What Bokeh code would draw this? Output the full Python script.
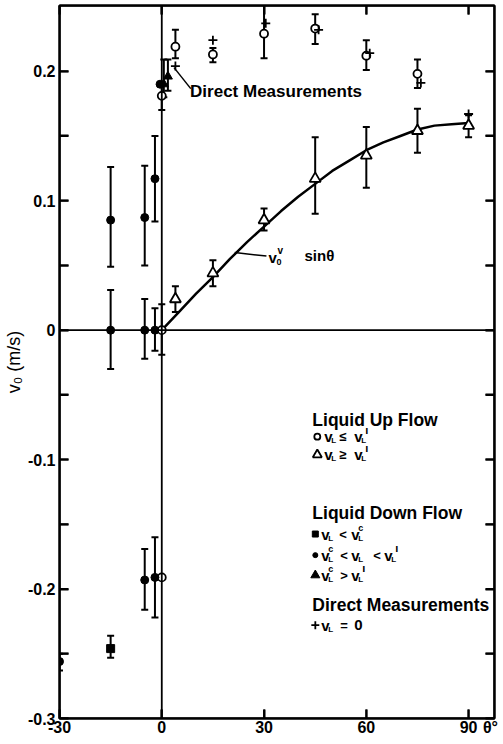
import math
from bokeh.plotting import figure
from bokeh.models import Range1d, LinearAxis, FixedTicker, CustomJSTickFormatter, Span
from bokeh.core.properties import value
from bokeh.embed import file_html
from bokeh.resources import INLINE

# ---------------- data ----------------
X_TICKS = [-30, 0, 30, 60, 90]
X_TICK_LABELS = ["-30", "0", "30", "60", "90"]
X_UNIT_POS = 96.4
X_UNIT_LABEL = "θ°"
Y_TICKS = [-0.3, -0.2, -0.1, 0.0, 0.1, 0.2]
Y_TICK_LABELS = ["-0.3", "-0.2", "-0.1", "0", "0.1", "0.2"]
Y_MINOR = [-0.25, -0.15, -0.05, 0.05, 0.15]

# v0^v sin(theta) curve
CURVE_THETA = [0, 5, 10, 15, 20, 25, 30, 35, 40, 45, 50, 55, 60, 65, 70, 75, 80, 85, 90]
CURVE_V = [0.0, 0.014, 0.028, 0.041, 0.055, 0.068, 0.080, 0.092, 0.103, 0.113,
           0.123, 0.131, 0.139, 0.145, 0.150, 0.155, 0.158, 0.159, 0.160]

# Liquid up flow, vL <= vL'  (open circles)
UP_LE_X = [0, 0, 4, 15, 30, 45, 60, 75, 0]
UP_LE_Y = [0.0, 0.181, 0.219, 0.213, 0.229, 0.233, 0.212, 0.198, -0.191]
# Liquid up flow, vL >= vL'  (open triangles)
UP_GE_X = [4, 15, 30, 45, 60, 75, 90]
UP_GE_Y = [0.024, 0.044, 0.085, 0.117, 0.135, 0.154, 0.158]
# Liquid down flow, vL < vLc (filled squares)
DN_SQ_X = [-15]
DN_SQ_Y = [-0.246]
# Liquid down flow, vLc < vL < vL' (filled dots)
DN_DOT_X = [-30, -15, -5, -2, -15, -5, -2, -5, -2, -0.5]
DN_DOT_Y = [-0.256, 0.085, 0.087, 0.117, 0.0, 0.0, 0.0, -0.193, -0.191, 0.190]
# Liquid down flow, vLc > vL' (filled triangles)
DN_TRI_X = [0.6, 1.8]
DN_TRI_Y = [0.190, 0.196]
# Direct measurements, vL = 0 (+)
DIRECT_X = [4, 15, 30.5, 46, 61, 76, 90]
DIRECT_Y = [0.204, 0.224, 0.237, 0.232, 0.214, 0.191, 0.167]

# error bars
ERR_X = [0, 0, 4, 15, 30, 45, 60, 75,
         4, 15, 30, 45, 60, 75, 90,
         -15, -30, -15, -5, -2, -15, -5, -2, -5, -2, 0.6, 1.8]
ERR_LO = [-0.019, 0.170, 0.210, 0.207, 0.210, 0.221, 0.201, 0.187,
          0.014, 0.034, 0.077, 0.090, 0.110, 0.137, 0.149,
          -0.253, -0.263, 0.049, 0.050, 0.084, -0.030, -0.022, -0.016, -0.216, -0.222, 0.180, 0.185]
ERR_HI = [0.020, 0.190, 0.232, 0.218, 0.260, 0.244, 0.224, 0.209,
          0.034, 0.054, 0.094, 0.149, 0.157, 0.171, 0.166,
          -0.236, -0.250, 0.126, 0.127, 0.150, 0.031, 0.024, 0.017, -0.169, -0.160, 0.209, 0.209]

# ---------------- figure ----------------
X0, X1 = -30, 97.6
Y0, Y1 = -0.3, 0.2508
W, H = 503, 744
BL, BR, BT, BB = 57, 9, 5, 26
FONT = "Liberation Sans"

p = figure(width=W, height=H, x_range=Range1d(X0, X1), y_range=Range1d(Y0, Y1),
           output_backend="svg", toolbar_location=None,
           min_border_left=BL, min_border_right=BR, min_border_top=BT, min_border_bottom=BB,
           x_axis_location=None, y_axis_location=None)
p.grid.visible = False
p.outline_line_color = "black"
p.outline_line_width = 2
p.background_fill_color = None
p.border_fill_color = "white"

PX_PER_DEG = (W - BL - BR) / (X1 - X0)
PX_PER_Y = (H - BT - BB) / (Y1 - Y0)
TICK_PX = 9

FMT_CODE = """
const i = tvals.findIndex(t => Math.abs(t - tick) < 1e-9);
return i >= 0 ? tlabels[i] : "";
"""
xfmt = CustomJSTickFormatter(args=dict(tvals=X_TICKS + [X_UNIT_POS], tlabels=X_TICK_LABELS + [X_UNIT_LABEL]),
                             code=FMT_CODE)
yfmt = CustomJSTickFormatter(args=dict(tvals=Y_TICKS, tlabels=Y_TICK_LABELS), code=FMT_CODE)
blank = CustomJSTickFormatter(code="return '';")


def style_axis(ax, show_labels, ticks=True):
    ax.axis_line_color = "black"
    ax.axis_line_width = 2
    ax.major_tick_line_color = "black" if ticks else None
    ax.major_tick_line_width = 2
    ax.minor_tick_line_color = "black" if ticks else None
    ax.minor_tick_line_width = 2
    ax.major_tick_in = TICK_PX if ticks else 0
    ax.major_tick_out = 0
    ax.minor_tick_in = TICK_PX if ticks else 0
    ax.minor_tick_out = 0
    if show_labels:
        ax.major_label_text_font = FONT
        ax.major_label_text_font_style = "bold"
        ax.major_label_text_font_size = "16px"
        ax.major_label_text_color = "black"
        ax.major_label_standoff = 2
    else:
        ax.major_label_text_font_size = "0px"
        ax.major_label_standoff = 0


# bottom: inward ticks (no labels), then labels only
xb_ticks = LinearAxis(ticker=FixedTicker(ticks=X_TICKS, minor_ticks=[]), formatter=blank)
style_axis(xb_ticks, False)
p.add_layout(xb_ticks, "below")
xb = LinearAxis(ticker=FixedTicker(ticks=X_TICKS + [X_UNIT_POS], minor_ticks=[]), formatter=xfmt)
style_axis(xb, True, ticks=False)
xb.axis_line_color = None
xb.major_label_standoff = 0
p.add_layout(xb, "below")

xt = LinearAxis(ticker=FixedTicker(ticks=X_TICKS, minor_ticks=[]), formatter=blank)
style_axis(xt, False)
p.add_layout(xt, "above")

yl = LinearAxis(ticker=FixedTicker(ticks=Y_TICKS, minor_ticks=Y_MINOR), formatter=yfmt,
                axis_label="v₀ (m/s)")
style_axis(yl, True)
yl.major_label_standoff = 4
yl.axis_label_standoff = 1
yl.axis_label_text_font = FONT
yl.axis_label_text_font_style = "normal"
yl.axis_label_text_font_size = "18px"
yl.axis_label_text_color = "black"
p.add_layout(yl, "left")

yr = LinearAxis(ticker=FixedTicker(ticks=Y_TICKS, minor_ticks=Y_MINOR), formatter=blank)
style_axis(yr, False)
p.add_layout(yr, "right")

# frame edges and zero lines
for loc, dim in [(X0, "height"), (X1, "height"), (Y0, "width"), (Y1, "width")]:
    p.add_layout(Span(location=loc, dimension=dim, line_color="black", line_width=2))
p.add_layout(Span(location=0, dimension="width", line_color="black", line_width=1.8))
p.add_layout(Span(location=0, dimension="height", line_color="black", line_width=1.8))

# inward tick marks on all four sides, drawn as dash markers just inside the frame
yt_all = Y_TICKS + Y_MINOR
half_dx = (TICK_PX / 2) / PX_PER_DEG
half_dy = (TICK_PX / 2) / PX_PER_Y
p.scatter([X0 + half_dx] * len(yt_all), yt_all, marker="dash", size=TICK_PX,
          line_color="black", line_width=2)
p.scatter([X1 - half_dx] * len(yt_all), yt_all, marker="dash", size=TICK_PX,
          line_color="black", line_width=2)
p.scatter(X_TICKS, [Y0 + half_dy] * len(X_TICKS), marker="dash", size=TICK_PX, angle=math.pi / 2,
          line_color="black", line_width=2)
p.scatter(X_TICKS, [Y1 - half_dy] * len(X_TICKS), marker="dash", size=TICK_PX, angle=math.pi / 2,
          line_color="black", line_width=2)

# curve
p.line(CURVE_THETA, CURVE_V, line_color="black", line_width=2.5)

# error bars
p.segment(x0=ERR_X, y0=ERR_LO, x1=ERR_X, y1=ERR_HI, line_color="black", line_width=2)
p.scatter(ERR_X, ERR_LO, marker="dash", size=7, line_color="black", line_width=2)
p.scatter(ERR_X, ERR_HI, marker="dash", size=7, line_color="black", line_width=2)

# points
p.scatter(UP_LE_X, UP_LE_Y, marker="circle", size=8, fill_color="white", line_color="black", line_width=1.8)
p.scatter(UP_GE_X, UP_GE_Y, marker="triangle", size=11, fill_color="white", line_color="black", line_width=1.8)
p.scatter(DN_SQ_X, DN_SQ_Y, marker="square", size=8, fill_color="black", line_color="black")
p.scatter(DN_DOT_X, DN_DOT_Y, marker="circle", size=8, fill_color="black", line_color="black")
p.scatter(DN_TRI_X, DN_TRI_Y, marker="triangle", size=9, fill_color="black", line_color="black")
p.scatter(DIRECT_X, DIRECT_Y, marker="cross", size=9, line_color="black", line_width=1.8)


def txt(x, y, s, size, dx=0, dy=0, bold=True, align="left", baseline="middle", font=FONT):
    p.text(x=[x], y=[y], text=[s], x_offset=dx, y_offset=dy,
           text_font=value(font), text_font_size=f"{size}px",
           text_font_style="bold" if bold else "normal",
           text_align=align, text_baseline=baseline, text_color="black")


# "Direct Measurements" annotation with leader
p.line([3.6, 8.5], [0.2028, 0.1866], line_color="black", line_width=1.5)
txt(8.3, 0.1843, "Direct  Measurements", 17)

# curve label with leader
p.line([21.4, 30.7], [0.060, 0.0572], line_color="black", line_width=1.5)
CX, CY = 31.3, 0.0564
txt(CX, CY, "v", 15)
txt(CX, CY, "0", 9, dx=8, dy=5)
txt(CX, CY, "v", 10, dx=9, dy=-7)
txt(CX, CY, "sinθ", 15, dx=36, dy=-2)

# legend block
LEG_X = X0 + (311 - BL) / PX_PER_DEG


def lx(dpx):
    return LEG_X + dpx / PX_PER_DEG


def v_sub(y, dx, sup=None):
    txt(LEG_X, y, "v", 15, dx=dx)
    txt(LEG_X, y, "L", 8, dx=dx + 7, dy=4)
    if sup == "'":
        txt(LEG_X, y, "ı", 11, dx=dx + 11, dy=-7)
    elif sup:
        txt(LEG_X, y, sup, 9, dx=dx + 7, dy=-6)


txt(LEG_X, -0.0691, "Liquid  Up  Flow", 17.5)
y = -0.0823
p.scatter([lx(5)], [y], marker="circle", size=6, fill_color="white", line_color="black", line_width=1.8)
v_sub(y, 12)
txt(LEG_X, y, "≤", 13, dx=27)
v_sub(y, 42, "'")
y = -0.0962
p.scatter([lx(5)], [y], marker="triangle", size=9, fill_color="white", line_color="black", line_width=1.8)
v_sub(y, 12)
txt(LEG_X, y, "≥", 13, dx=27)
v_sub(y, 42, "'")

txt(LEG_X, -0.1412, "Liquid  Down  Flow", 17.5)
y = -0.1575
p.scatter([lx(3)], [y], marker="square", size=6, fill_color="black", line_color="black")
v_sub(y, 9)
txt(LEG_X, y, "<", 13, dx=27)
v_sub(y, 39, "c")
y = -0.1738
p.scatter([lx(3)], [y], marker="circle", size=5, fill_color="black", line_color="black")
v_sub(y, 9, "c")
txt(LEG_X, y, "<", 13, dx=28)
v_sub(y, 39)
txt(LEG_X, y, "<", 13, dx=61)
v_sub(y, 72, "'")
y = -0.1893
p.scatter([lx(3)], [y], marker="triangle", size=9, fill_color="black", line_color="black")
v_sub(y, 9, "c")
txt(LEG_X, y, ">", 13, dx=28)
v_sub(y, 39, "'")

txt(LEG_X, -0.2124, "Direct  Measurements", 17.5)
y = -0.2279
p.scatter([lx(3)], [y], marker="cross", size=8, line_color="black", line_width=1.8)
v_sub(y, 9)
txt(LEG_X, y, "=", 13, dx=28)
txt(LEG_X, y, "0", 15, dx=42)

open("out.html", "w").write(file_html(p, INLINE))
